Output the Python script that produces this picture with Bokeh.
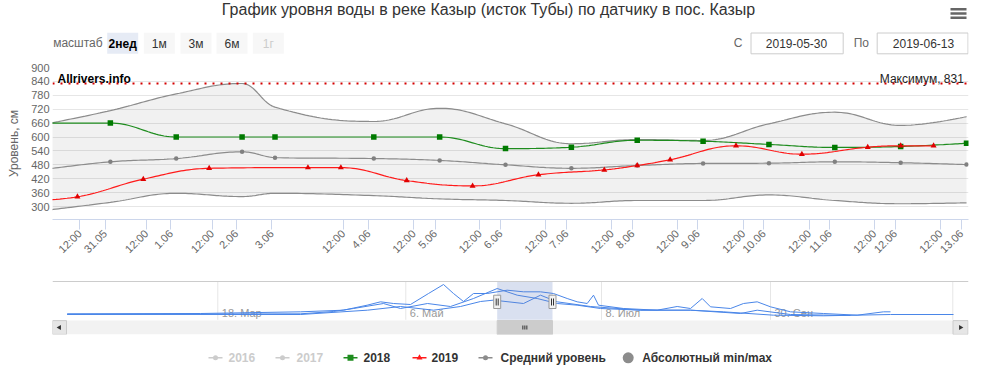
import math
import numpy as np
from bokeh.plotting import figure
from bokeh.layouts import column
from bokeh.models import Range1d, FixedTicker, Span
from bokeh.core.properties import value
from bokeh.embed import file_html
from bokeh.resources import INLINE

FONT = "Liberation Sans"

# ------------------------------------------------------------------ data
TITLE = "График уровня воды в реке Казыр (исток Тубы) по датчику в пос. Казыр"
Y_TITLE = "Уровень, см"
MAX_LABEL = "Максимум, 831"
SOURCE = "Allrivers.info"
max_level = 831

# ordinal x slots of the Highstock axis
x_hist = [0, 2, 4, 6, 7, 10, 12, 14, 16, 18, 20, 22, 24, 26, 28]
level_2018 = [660, 660, 600, 600, 600, 600, 600, 550, 556, 586, 582, 568, 555, 559, 573]
avg_level = [460, 493, 507, 536, 511, 507, 499, 480, 465, 477, 486, 487, 493, 489, 481]
abs_max = [655, 714, 786, 831, 729, 667, 724, 657, 571, 589, 585, 657, 707, 650, 688]
abs_min = [283, 318, 357, 343, 357, 347, 333, 326, 314, 326, 326, 350, 326, 312, 316]

x_2019 = [-1, 1, 3, 5, 8, 9, 11, 13, 15, 17, 18, 19, 21, 23, 25, 26, 27]
level_2019 = [322, 342, 418, 465, 468, 468, 412, 389, 437, 458, 477, 502, 562, 526, 556, 562, 562]

tick_pos = [1.07, 1.84, 3.09, 3.84, 5.09, 5.82, 6.90, 9.07, 9.84, 11.21, 11.86, 13.22,
            13.85, 15.22, 15.85, 17.23, 17.86, 19.21, 19.84, 21.22, 21.84, 23.22, 23.85,
            25.20, 25.83, 27.21, 27.84]
tick_labels = ["12:00", "31.05", "12:00", "1.06", "12:00", "2.06", "3.06", "12:00", "4.06",
               "12:00", "5.06", "12:00", "6.06", "12:00", "7.06", "12:00", "8.06", "12:00",
               "9.06", "12:00", "10.06", "12:00", "11.06", "12:00", "12.06", "12:00", "13.06"]
y_ticks = [300, 360, 420, 480, 540, 600, 660, 720, 780, 840, 900]

# navigator (whole season, ordinal positions)
nav_a_x = [14.7, 148, 248, 291, 314.7, 328, 341, 358, 376, 391, 401, 411, 421, 434.7, 444.7,
           454.7, 471, 488, 501, 514.7, 524.7, 534.7, 541, 546, 571, 604.7, 624.7, 638, 649.7,
           658, 678, 691, 704.7, 718, 738, 771, 804.7, 831, 838]
nav_a = [274, 280, 312, 343, 438, 502, 470, 451, 660, 831, 660, 508, 660, 660, 692, 723, 692,
         692, 660, 565, 502, 470, 628, 438, 375, 343, 413, 375, 565, 407, 375, 470, 502, 407,
         312, 280, 248, 312, 312]
nav_b_x = [14.7, 248, 281, 301, 331, 348, 375, 398, 421, 444.7, 464.7, 484.7, 504.7, 524.7,
           548, 588, 638, 671, 721, 771, 838, 901]
nav_b = [261, 274, 318, 375, 470, 375, 470, 413, 565, 755, 628, 565, 470, 438, 375, 343, 343,
         312, 248, 236, 261, 261]
nav_c_x = [14.7, 248, 315, 348, 381, 408, 428, 441, 471, 488, 504.7, 538, 588, 638, 688,
           704.7, 738, 798]
nav_c = [265, 261, 343, 413, 343, 413, 508, 534, 470, 628, 502, 413, 343, 343, 280, 343, 261, 242]
nav_ticks = [165.3, 353.3, 549, 718, 900.3]
nav_labels = ["18. Мар", "6. Май", "8. Июл", "30. Сен", ""]
nav_sel = (444.7, 500)

buttons = ["2нед", "1м", "3м", "6м", "1г"]
date_from = "2019-05-30"
date_to = "2019-06-13"

legend_names = ["2016", "2017", "2018", "2019", "Средний уровень", "Абсолютный min/max"]

# ------------------------------------------------------------------ layout constants
W = 1000
LEFT, RIGHT = 52, 32          # frame borders shared by all stacked figures


# ------------------------------------------------------------------ helpers
def hc_spline(xs, ys, steps=24):
    """Highcharts spline path (smoothing 1.5) sampled from cubic beziers."""
    n = len(xs)
    lc = [None] * n
    rc = [None] * n
    s, d = 1.5, 2.5
    for i in range(1, n - 1):
        px, py = xs[i], ys[i]
        lx, ly = xs[i - 1], ys[i - 1]
        nx, ny = xs[i + 1], ys[i + 1]
        lcx = (s * px + lx) / d
        lcy = (s * py + ly) / d
        rcx = (s * px + nx) / d
        rcy = (s * py + ny) / d
        corr = 0.0
        if rcx != lcx:
            corr = ((rcy - lcy) * (rcx - px)) / (rcx - lcx) + py - rcy
        lcy += corr
        rcy += corr
        if lcy > ly and lcy > py:
            lcy = max(ly, py)
            rcy = 2 * py - lcy
        elif lcy < ly and lcy < py:
            lcy = min(ly, py)
            rcy = 2 * py - lcy
        if rcy > ny and rcy > py:
            rcy = max(ny, py)
            lcy = 2 * py - rcy
        elif rcy < ny and rcy < py:
            rcy = min(ny, py)
            lcy = 2 * py - rcy
        lc[i] = (lcx, lcy)
        rc[i] = (rcx, rcy)
    ox, oy = [xs[0]], [ys[0]]
    t = np.linspace(0, 1, steps + 1)[1:]
    for i in range(1, n):
        p0 = (xs[i - 1], ys[i - 1])
        p3 = (xs[i], ys[i])
        p1 = rc[i - 1] if rc[i - 1] else p0
        p2 = lc[i] if lc[i] else p3
        a = (1 - t) ** 3
        b = 3 * (1 - t) ** 2 * t
        c = 3 * (1 - t) * t ** 2
        e = t ** 3
        ox.extend(list(a * p0[0] + b * p1[0] + c * p2[0] + e * p3[0]))
        oy.extend(list(a * p0[1] + b * p1[1] + c * p2[1] + e * p3[1]))
    return ox, oy


def blank_fig(y0, y1):
    """Figure whose data coords equal page pixels (x in frame 52..968, y downwards)."""
    f = figure(width=W, height=y1 - y0, x_range=Range1d(LEFT, W - RIGHT), y_range=Range1d(y1, y0),
               toolbar_location=None, output_backend="svg",
               min_border_left=LEFT, min_border_right=RIGHT, min_border_top=0, min_border_bottom=0,
               x_axis_type=None, y_axis_type=None)
    f.grid.visible = False
    f.outline_line_color = None
    return f


def txt(f, x, y, s, size="12px", color="#333333", align="left", base="middle", bold=False):
    f.text(x=[x], y=[y], text=[s], text_font=value(FONT), text_font_size=size,
           text_color=color, text_align=align, text_baseline=base,
           text_font_style="bold" if bold else "normal")


# ------------------------------------------------------------------ header (page y 0..57)
hdr = blank_fig(0, 57)
txt(hdr, 488, 0.5, TITLE, size="16px", color="#333333", align="center", base="top")
for yb in [8.7, 13.0, 17.3]:
    hdr.rect(x=[958], y=[yb], width=16, height=2.6, fill_color="#666666", line_color=None)
txt(hdr, 52.7, 42.5, "масштаб", size="12px", color="#666666")
bx = [106.7, 143.3, 180.0, 216.0, 252.3]
for i, lab in enumerate(buttons):
    sel = i == 0
    dis = i == len(buttons) - 1
    hdr.quad(left=[bx[i]], right=[bx[i] + 31], top=[32.3], bottom=[53.3],
             fill_color="#e6ebf5" if sel else "#f7f7f7", line_color=None)
    txt(hdr, bx[i] + 15.5, 43, lab, size="12px",
        color="#000000" if sel else ("#cccccc" if dis else "#333333"),
        align="center", bold=sel)
txt(hdr, 737.5, 42.5, "С", size="12px", color="#666666", align="center")
hdr.quad(left=[750.5], right=[842.7], top=[32.5], bottom=[53.3], fill_color="white", line_color="#cccccc")
txt(hdr, 796, 43, date_from, size="12px", color="#333333", align="center")
txt(hdr, 860.8, 42.5, "По", size="12px", color="#666666", align="center")
hdr.quad(left=[876.7], right=[967.5], top=[32.5], bottom=[53.3], fill_color="white", line_color="#cccccc")
txt(hdr, 923, 43, date_to, size="12px", color="#333333", align="center")

# ------------------------------------------------------------------ main chart (page y 57..273)
p = figure(width=W, height=216, x_range=Range1d(0.243, 28.06), y_range=Range1d(244, 900),
           toolbar_location=None, output_backend="svg",
           min_border_left=LEFT, min_border_right=RIGHT, min_border_top=10, min_border_bottom=54)
p.outline_line_color = None
p.xgrid.visible = False
p.ygrid.grid_line_color = "#e6e6e6"

p.xaxis.ticker = FixedTicker(ticks=tick_pos, minor_ticks=[])
p.xaxis.major_label_overrides = {t: l for t, l in zip(tick_pos, tick_labels)}
p.xaxis.major_label_orientation = math.pi / 4
p.xaxis.major_label_text_font = FONT
p.xaxis.major_label_text_font_size = "11px"
p.xaxis.major_label_text_color = "#666666"
p.xaxis.axis_line_color = "#ccd6eb"
p.xaxis.major_tick_line_color = "#ccd6eb"
p.xaxis.major_tick_out = 10
p.xaxis.major_tick_in = 0
p.xaxis.minor_tick_out = 0
p.xaxis.minor_tick_line_color = None
p.xaxis.major_label_standoff = 2

p.yaxis.ticker = FixedTicker(ticks=y_ticks, minor_ticks=[])
p.yaxis.axis_line_color = None
p.yaxis.major_tick_line_color = None
p.yaxis.minor_tick_line_color = None
p.yaxis.major_tick_out = 0
p.yaxis.major_label_standoff = 3
p.yaxis.major_label_text_font = FONT
p.yaxis.major_label_text_font_size = "11px"
p.yaxis.major_label_text_color = "#666666"
p.yaxis.axis_label = Y_TITLE
p.yaxis.axis_label_text_font = FONT
p.yaxis.axis_label_text_font_size = "12px"
p.yaxis.axis_label_text_color = "#666666"
p.yaxis.axis_label_text_font_style = "normal"
p.yaxis.axis_label_standoff = 7

# absolute min/max band
ux, uy = hc_spline(x_hist, abs_max)
lx, ly = hc_spline(x_hist, abs_min)
p.patch(x=ux + lx[::-1], y=uy + ly[::-1], fill_color="#000000", fill_alpha=0.055, line_color=None)
p.line(ux, uy, line_color="#8c8c8c", line_width=1.2)
p.line(lx, ly, line_color="#8c8c8c", line_width=1.2)

# average
ax_, ay_ = hc_spline(x_hist, avg_level)
p.line(ax_, ay_, line_color="#8c8c8c", line_width=1.2)
p.scatter(x_hist, avg_level, marker="circle", size=4.5, fill_color="#808080", line_color=None)

# 2018
gx, gy = hc_spline(x_hist, level_2018)
p.line(gx, gy, line_color="#1e8c1e", line_width=1.2)
p.scatter(x_hist, level_2018, marker="square", size=5.5, fill_color="#007a00", line_color=None)

# 2019
rx, ry = hc_spline(x_2019, level_2019)
p.line(rx, ry, line_color="#ff1a1a", line_width=1.2)
p.scatter(x_2019, level_2019, marker="triangle", size=6, fill_color="#e00000", line_color=None)

p.add_layout(Span(location=max_level, dimension="width", line_color="#d40000",
                  line_width=2, line_dash="2 6"))
p.text(x=[0.395], y=[851], text=[SOURCE], text_font=value(FONT), text_font_size="12px",
       text_font_style="bold", text_color="#000000", text_align="left", text_baseline="alphabetic")
p.text(x=[27.92], y=[851], text=[MAX_LABEL], text_font=value(FONT), text_font_size="12px",
       text_color="#222222", text_align="right", text_baseline="alphabetic")

# ------------------------------------------------------------------ navigator (page y 273..340)
nv = figure(width=W, height=67, x_range=Range1d(0, 916), y_range=Range1d(-119, 907),
            toolbar_location=None, output_backend="svg",
            min_border_left=LEFT, min_border_right=RIGHT, min_border_top=7, min_border_bottom=6,
            x_axis_type=None, y_axis_type=None)
nv.grid.visible = False
nv.outline_line_color = None
nv.segment(x0=nav_ticks, x1=nav_ticks, y0=[160] * len(nav_ticks), y1=[888] * len(nav_ticks),
           line_color="#e6e6e6", line_width=1)
nv.text(x=[t + 4 for t in nav_ticks], y=[289] * len(nav_ticks), text=nav_labels,
        text_font=value(FONT), text_font_size="11px", text_color="#999999",
        text_align="left", text_baseline="middle")
nv.line(nav_a_x, nav_a, line_color="#4a86e8", line_width=1)
nv.line(nav_b_x, nav_b, line_color="#4a86e8", line_width=1)
nv.line(nav_c_x, nav_c, line_color="#4a86e8", line_width=1)
nv.quad(left=[nav_sel[0]], right=[nav_sel[1]], bottom=[160], top=[888],
        fill_color="#6685c2", fill_alpha=0.25, line_color=None)
nv.segment(x0=[0], x1=[916], y0=[888], y1=[888], line_color="#cccccc", line_width=1)
# scrollbar
nv.quad(left=[0], right=[916], bottom=[-119], top=[147], fill_color="#f2f2f2", line_color=None)
nv.quad(left=[nav_sel[0]], right=[nav_sel[1]], bottom=[-119], top=[147],
        fill_color="#cccccc", line_color="#cccccc")
mid = (nav_sel[0] + nav_sel[1]) / 2
nv.segment(x0=[mid - 2, mid, mid + 2], x1=[mid - 2, mid, mid + 2], y0=[52] * 3, y1=[-24] * 3,
           line_color="#333333", line_width=1)
nv.quad(left=[0, 900.5], right=[14, 915.5], bottom=[-117, -117], top=[145, 145],
        fill_color="#e6e6e6", line_color="#cccccc")
nv.scatter(x=[7], y=[14], marker="triangle", size=5, angle=math.pi / 2, fill_color="#333333", line_color=None)
nv.scatter(x=[908], y=[14], marker="triangle", size=5, angle=-math.pi / 2, fill_color="#333333", line_color=None)
# handles
for hx in nav_sel:
    nv.quad(left=[hx - 3.5], right=[hx + 3.5], bottom=[375], top=[628],
            fill_color="#f2f2f2", line_color="#999999")
    nv.segment(x0=[hx - 1, hx + 1], x1=[hx - 1, hx + 1], y0=[432, 432], y1=[565, 565],
               line_color="#333333", line_width=1)

# ------------------------------------------------------------------ legend (page y 340..374)
lg = blank_fig(340, 374)
LY = 357.3
items = [
    (legend_names[0], 208, 228, "#cccccc", "circle", "#cccccc"),
    (legend_names[1], 275, 296, "#cccccc", "circle", "#cccccc"),
    (legend_names[2], 343, 363, "#1e8c1e", "square", "#333333"),
    (legend_names[3], 412, 431, "#ff1a1a", "triangle", "#333333"),
    (legend_names[4], 478, 500, "#8c8c8c", "circle", "#333333"),
]
for name, sx, tx, col, mk, tcol in items:
    lg.segment(x0=[sx], x1=[sx + 14], y0=[LY], y1=[LY], line_color=col, line_width=1.5)
    sz = 5 if mk == "circle" else 6
    lg.scatter(x=[sx + 7], y=[LY], marker=mk, size=sz, fill_color=col, line_color=None)
    txt(lg, tx, LY, name, size="12px", color=tcol, bold=True)
lg.scatter(x=[627.7], y=[LY], marker="circle", size=11, fill_color="#8c8c8c", line_color=None)
txt(lg, 641.7, LY, legend_names[5], size="12px", color="#333333", bold=True)

layout = column(hdr, p, nv, lg, spacing=0)
open("out.html", "w").write(file_html(layout, INLINE))
